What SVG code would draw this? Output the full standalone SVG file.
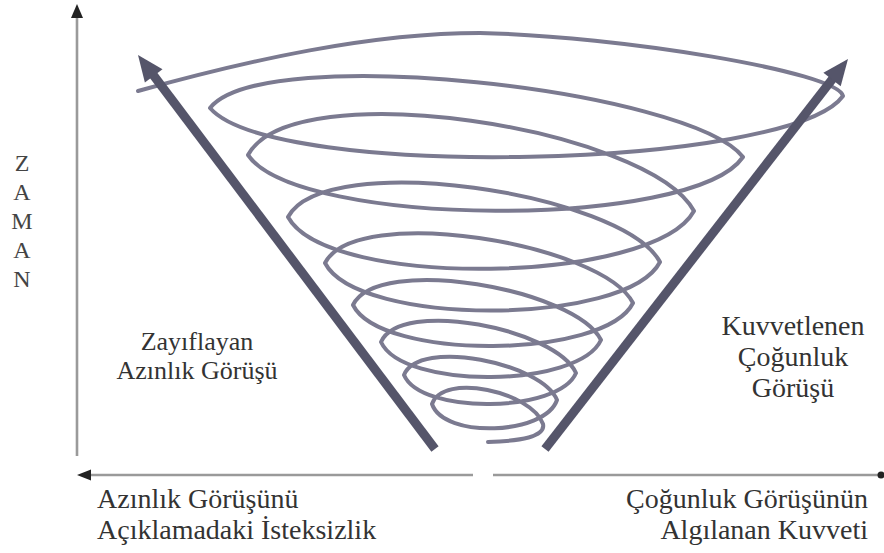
<svg xmlns="http://www.w3.org/2000/svg" width="884" height="553" viewBox="0 0 884 553">
<style>
.t{font-family:"Liberation Serif","Times New Roman",serif;font-size:28px;fill:#333;}
.s{font-size:26px;}
.z{font-family:"Liberation Serif","Times New Roman",serif;font-size:24px;fill:#444;text-anchor:middle;}
.ax{stroke:#9a9a9a;stroke-width:2.6;fill:none;}
.sp{stroke:#7b7a90;stroke-width:4;fill:none;stroke-linecap:round;stroke-linejoin:round;}
.ar{stroke:#55556a;stroke-width:9;fill:none;stroke-linecap:butt;}
.hd{fill:#55556a;}
</style>
<rect width="884" height="553" fill="#fff"/>
<g id="axes">
  <line class="ax" x1="77" y1="12" x2="77" y2="456"/>
  <polygon points="77,4 71,18 83,18" fill="#222"/>
  <line class="ax" x1="86" y1="475" x2="473" y2="475"/>
  <line class="ax" x1="493" y1="475" x2="880" y2="475"/>
  <polygon points="77,475 91,469.5 91,480.5" fill="#222"/>
  <circle cx="881" cy="475" r="3.5" fill="#222"/>
</g>
<g id="spiral">
  <path class="sp" d="M488,442 C520,441 546,437 543,424
    C532,392 443,372 432,404
    C444,439 545,435 557,400
    C542,363 419,338 404,375
    C421,415 559,413 576,373
    C556,329 401,298 381,342
    C403,390 579,388 601,340
    C576,289 378,254 353,305
    C381,361 605,359 633,303
    C602,243 356,203 325,263
    C358,327 627,326 660,262
    C623,193 325,148 288,217
    C328,290 654,284 694,211
    C649,128 293,72 248,155
    C298,228 693,230 743,157
    C690,90 263,41 210,108
    C273,181 790,169 843,96
    C838,72 620,36 480,33
    C370,33 250,60 138,91"/>
</g>
<g id="connectors">
  <g id="arrow-left">
    <line class="ar" x1="435" y1="449" x2="151" y2="72"/>
    <polygon class="hd" points="138,55 162.5,69.2 144.9,82.4"/>
  </g>
  <g id="arrow-right">
    <line class="ar" x1="545" y1="449" x2="834" y2="77"/>
    <polygon class="hd" points="848,59 840.7,86.3 823.4,72.8"/>
  </g>
</g>
<g id="label-zaman">
  <text class="z" x="22" y="171">Z</text>
  <text class="z" x="22" y="200">A</text>
  <text class="z" x="22" y="229">M</text>
  <text class="z" x="22" y="258">A</text>
  <text class="z" x="22" y="287">N</text>
</g>
<g id="label-minority" text-anchor="middle">
  <text class="t s" x="197" y="350">Zayıflayan</text>
  <text class="t s" x="197" y="379">Azınlık Görüşü</text>
</g>
<g id="label-majority" text-anchor="middle">
  <text class="t" x="793" y="335">Kuvvetlenen</text>
  <text class="t" x="793" y="366">Çoğunluk</text>
  <text class="t" x="793" y="397">Görüşü</text>
</g>
<g id="label-bottom-left">
  <text class="t" x="97" y="508">Azınlık Görüşünü</text>
  <text class="t" x="97" y="539">Açıklamadaki İsteksizlik</text>
</g>
<g id="label-bottom-right" text-anchor="end">
  <text class="t" x="868" y="508">Çoğunluk Görüşünün</text>
  <text class="t" x="868" y="539">Algılanan Kuvveti</text>
</g>
</svg>
